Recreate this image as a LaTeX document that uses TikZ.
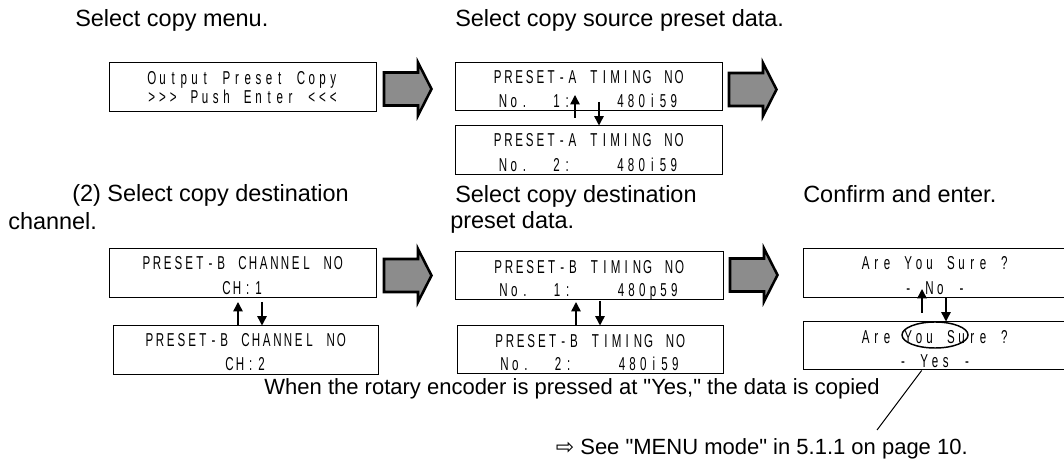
\documentclass[tikz,border=0pt]{standalone}
\usepackage{fontspec}
\setmainfont{Liberation Sans}
\newfontfamily\lcdfont[FakeStretch=0.62]{Liberation Sans}
\newfontfamily\symfont{DejaVu Sans}
\usetikzlibrary{arrows.meta,shapes.geometric}
\definecolor{arrgray}{RGB}{140,140,140}
\newlength\lcdpitch \setlength\lcdpitch{8.0pt}
\newcommand\lcdstop{}
\def\lcdloop#1{\ifx#1\lcdstop\else\makebox[\lcdpitch]{#1}\expandafter\lcdloop\fi}
\newcommand\lcd[1]{\lcdloop#1\lcdstop}
\newcommand\dq{\textquotedbl}
% name, x1, y1, x2, y2
\newcommand\lcdpanel[5]{\node[lcdframe, minimum width={(#4-#2)*0.75pt}, minimum height={(#5-#3)*0.75pt}] (#1) at ({(#2+#4)/2},{(#3+#5)/2}) {};}
% x-left, y-center
\newcommand\blockarrow[2]{\draw[blockarr] (#1+1,#2-16.5) -- (#1+35,#2-16.5) -- (#1+35,#2-26.5) -- (#1+48.5,#2) -- (#1+35,#2+26.5) -- (#1+35,#2+16.5) -- (#1+1,#2+16.5) -- cycle;}
\begin{document}
\begin{tikzpicture}[x=0.75pt, y=-0.75pt,
  lcdframe/.style={draw=black, line width=0.75pt, inner sep=0pt, rectangle},
  lcdtxt/.style={font=\lcdfont\fontsize{14}{16}\selectfont, inner sep=0pt, anchor=base, text=black},
  bodytxt/.style={font=\fontsize{17.6}{21}\selectfont, inner sep=0pt, anchor=base west},
  notetxt/.style={font=\fontsize{16.5}{20}\selectfont, inner sep=0pt, anchor=base east},
  blockarr/.style={draw=black, line width=1.9pt, fill=arrgray, line join=miter},
  updn/.style={line width=1.1pt, -{Triangle[width=7pt,length=7pt]}},
  pointer/.style={line width=0.75pt},
  oval/.style={draw=black, ellipse, line width=1.1pt, inner sep=0pt}
]
\useasboundingbox (0,0) rectangle (1064,466);

% headings
\node[bodytxt] (t1) at (75,27) {Select copy menu.};
\node[bodytxt] (t2) at (455,27) {Select copy source preset data.};
\node[bodytxt] (t3a) at (72,202) {(2) Select copy destination};
\node[bodytxt] (t3b) at (8,230) {channel.};
\node[bodytxt] (t4a) at (455,203) {Select copy destination};
\node[bodytxt] (t4b) at (450,229) {preset data.};
\node[bodytxt] (t5) at (803,203) {Confirm and enter.};

% row 1
\lcdpanel{m1}{109}{63}{376}{112}
\node[lcdtxt] (m1a) at (242.5,84.5) {\lcd{Output~Preset~Copy}};
\node[lcdtxt] (m1b) at (242.5,103.5) {\lcd{>>>~Push~Enter~<<<}};
\lcdpanel{a1}{455}{63}{722}{111}
\node[lcdtxt] (a1a) at (588.5,83.5) {\lcd{PRESET-A~TIMING~NO}};
\node[lcdtxt] (a1b) at (588.5,108) {\lcd{No.~~1:~~~~480i59}};
\lcdpanel{a2}{455}{126}{722}{175}
\node[lcdtxt] (a2a) at (588.5,146.7) {\lcd{PRESET-A~TIMING~NO}};
\node[lcdtxt] (a2b) at (588.5,171.5) {\lcd{No.~~2:~~~~480i59}};

% row 2
\lcdpanel{b1}{109}{249}{376}{298}
\node[lcdtxt] (b1a) at (242.5,270) {\lcd{PRESET-B~CHANNEL~NO}};
\node[lcdtxt] (b1b) at (242.5,295) {\lcd{CH:1}};
\lcdpanel{b2}{113}{326}{378}{375}
\node[lcdtxt] (b2a) at (245.5,347) {\lcd{PRESET-B~CHANNEL~NO}};
\node[lcdtxt] (b2b) at (245.5,371) {\lcd{CH:2}};
\lcdpanel{c1}{455}{252}{723}{300}
\node[lcdtxt] (c1a) at (589,273.3) {\lcd{PRESET-B~TIMING~NO}};
\node[lcdtxt] (c1b) at (589,296.7) {\lcd{No.~~1:~~~~480p59}};
\lcdpanel{c2}{457}{326}{723}{374}
\node[lcdtxt] (c2a) at (590,347.5) {\lcd{PRESET-B~TIMING~NO}};
\node[lcdtxt] (c2b) at (590,371) {\lcd{No.~~2:~~~~480i59}};
\lcdpanel{d1}{803}{249}{1067}{298}
\node[lcdtxt] (d1a) at (935,270) {\lcd{Are~You~Sure~?}};
\node[lcdtxt] (d1b) at (935,295) {\lcd{-~No~-}};
\lcdpanel{d2}{803}{322}{1067}{370}
\node[lcdtxt] (d2a) at (935,343.3) {\lcd{Are~You~Sure~?}};
\node[lcdtxt] (d2b) at (935,368) {\lcd{-~Yes~-}};

% block arrows
\blockarrow{383}{89}
\blockarrow{728}{89.5}
\blockarrow{383}{275.5}
\blockarrow{729}{275}

% up/down arrows
\coordinate (aus) at (575,118); \coordinate (aue) at (575,95);
\coordinate (ads) at (599,102);
\draw[updn] (aus) -- (aue);
\draw[updn] (ads) -- (ads |- a2.north);
\coordinate (bus) at (238,325); \coordinate (bue) at (238,302);
\coordinate (bds) at (262,302);
\draw[updn] (bus) -- (bue);
\draw[updn] (bds) -- (bds |- b2.north);
\coordinate (cus) at (576,326); \coordinate (cue) at (576,302);
\coordinate (cds) at (600,301);
\draw[updn] (cus) -- (cue);
\draw[updn] (cds) -- (cds |- c2.north);
\coordinate (dus) at (922,313); \coordinate (due) at (922,289);
\coordinate (dds) at (946,298);
\draw[updn] (dus) -- (due);
\draw[updn] (dds) -- (dds |- d2.north);

% highlight and note
\node[oval, minimum width=49.5pt, minimum height=19.5pt] (ell) at (935,335) {};
\node[notetxt] (t6) at (880,395) {When the rotary encoder is pressed at \dq Yes,\dq\ the data is copied};
\node[notetxt] (t7) at (968,455) {{\symfont ⇨} See \dq MENU mode\dq\ in 5.1.1 on page 10.};
\coordinate (ptr) at (877,430);
\draw[pointer] ([xshift=-10pt]d2.south) -- (ptr);
\end{tikzpicture}
\end{document}
